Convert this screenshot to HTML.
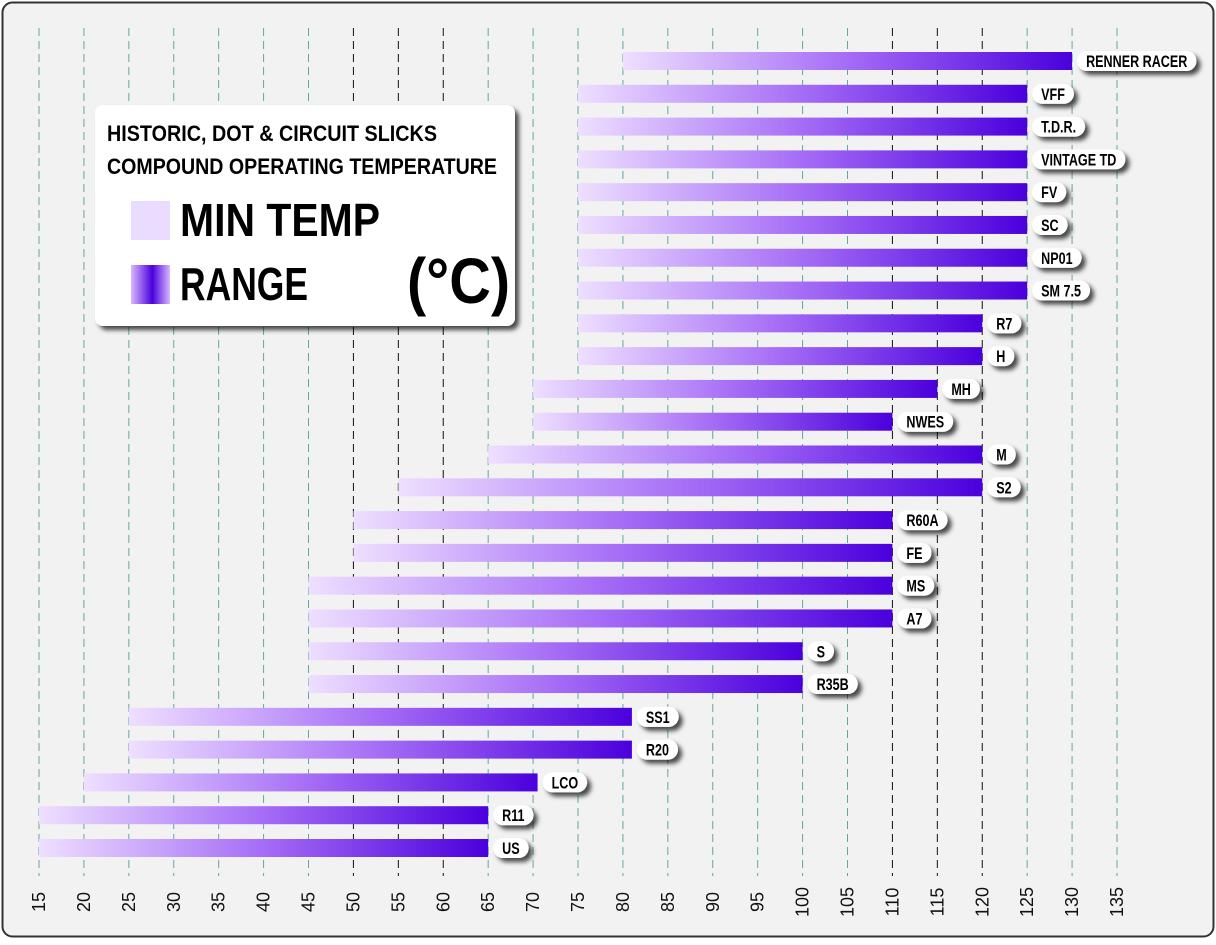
<!DOCTYPE html>
<html><head><meta charset="utf-8"><style>
body{margin:0;background:#fff;}
svg text{font-family:"Liberation Sans",sans-serif;font-weight:bold;}
svg text.tick{font-weight:normal;}
</style></head><body>
<svg id="chart" width="1216" height="940" xmlns="http://www.w3.org/2000/svg">
<defs>
<linearGradient id="barGrad" x1="0" x2="1" y1="0" y2="0"><stop offset="0" stop-color="#eedfff"/><stop offset="0.5" stop-color="#a56cf6"/><stop offset="1" stop-color="#4a00dc"/></linearGradient>
<linearGradient id="legGrad" x1="0" x2="1"><stop offset="0" stop-color="#d9b8ff"/><stop offset="0.55" stop-color="#4a00dc"/><stop offset="1" stop-color="#d9b8ff"/></linearGradient>
<filter id="sh" x="-20%" y="-30%" width="150%" height="190%"><feDropShadow dx="4" dy="4" stdDeviation="2.5" flood-color="#000" flood-opacity="0.7"/></filter>
</defs>
<rect x="2.5" y="2.5" width="1211" height="934" rx="10" fill="#f2f2f2" stroke="#333" stroke-width="2"/>
<g id="grid"></g><g id="bars"></g><g id="ticks"></g>
<g filter="url(#sh)">
<rect x="95" y="105" width="420" height="221" rx="8" fill="#fff"/>
</g>
<text x="107" y="141" font-size="22" textLength="330" lengthAdjust="spacingAndGlyphs">HISTORIC, DOT &amp; CIRCUIT SLICKS</text>
<text x="107" y="174" font-size="22" textLength="390" lengthAdjust="spacingAndGlyphs">COMPOUND OPERATING TEMPERATURE</text>
<rect x="131" y="201" width="39" height="39" fill="#eadcff"/>
<text x="180" y="236" font-size="46" textLength="200" lengthAdjust="spacingAndGlyphs">MIN TEMP</text>
<rect x="131" y="265" width="39" height="39" fill="url(#legGrad)"/>
<text x="180" y="300" font-size="46" textLength="128" lengthAdjust="spacingAndGlyphs">RANGE</text>
<text x="407" y="303" font-size="64" textLength="103" lengthAdjust="spacingAndGlyphs">(°C)</text>
</svg>
<script>
const names=["RENNER RACER","VFF","T.D.R.","VINTAGE TD","FV","SC","NP01","SM 7.5","R7","H","MH","NWES","M","S2","R60A","FE","MS","A7","S","R35B","SS1","R20","LCO","R11","US"];
const minTemps=[80,75,75,75,75,75,75,75,75,75,70,70,65,55,50,50,45,45,45,45,25,25,20,15,15];
const maxTemps=[130,125,125,125,125,125,125,125,120,120,115,110,120,120,110,110,110,110,100,100,81,81,70.5,65,65];
const ticks=[15,20,25,30,35,40,45,50,55,60,65,70,75,80,85,90,95,100,105,110,115,120,125,130,135];
const darkTicks=[50,55,60,110,115,120];
const NS="http://www.w3.org/2000/svg";
const x=v=>39+(v-15)*(1078/120);
const y=i=>61+i*(787/24);
function mk(t,a,p){const e=document.createElementNS(NS,t);for(const k in a)e.setAttribute(k,a[k]);p.appendChild(e);return e;}
const grid=document.getElementById('grid'),tk=document.getElementById('ticks'),bars=document.getElementById('bars');
ticks.forEach(v=>{
 const l=mk('line',{x1:x(v),x2:x(v),y1:28,y2:876,stroke:darkTicks.includes(v)?'#111':'#5fa8a0','stroke-width':1,'stroke-dasharray':'8,5'},grid);
 
 
 const t=mk('text',{x:0,y:0,'font-size':18,'text-anchor':'middle',class:'tick',transform:`translate(${x(v)+6},902) rotate(-90)`,fill:'#111'},tk);
 t.textContent=v;
 
 
});
names.forEach((n,i)=>{
 const cy=y(i),x0=x(minTemps[i]),x1=x(maxTemps[i]);
 const r=mk('rect',{x:x0,y:cy-9,width:x1-x0,height:18,fill:'url(#barGrad)'},bars);
 
 
 const g=mk('g',{filter:'url(#sh)'},bars);
 const p=mk('rect',{x:x1+5,y:cy-10,width:40,height:20,rx:10,fill:'#fff'},g);
 
 
 const t=mk('text',{x:0,y:0,'font-size':17,fill:'#000'},bars);
 t.textContent=n;
 
 
 const tw=t.getComputedTextLength()*0.74;
 const w=tw+18;
 p.setAttribute('width',w);
 t.setAttribute('transform',`translate(${x1+5+9},${cy+6}) scale(0.74,1)`);
});
</script>
</body></html>
